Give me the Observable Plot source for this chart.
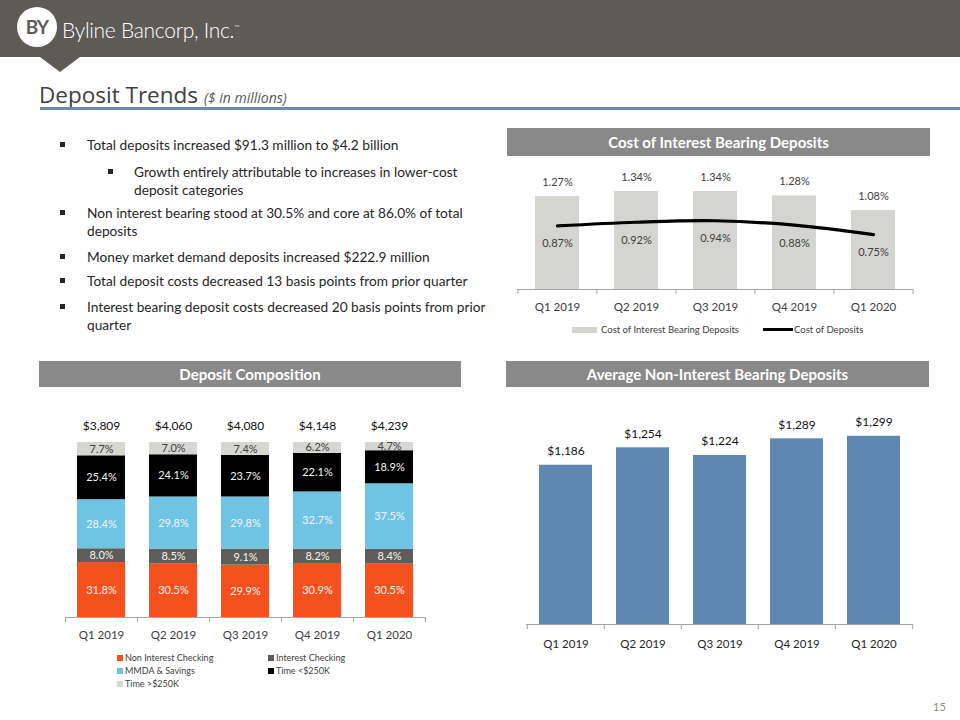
<!DOCTYPE html>
<html><head><meta charset="utf-8">
<script src="https://cdn.jsdelivr.net/npm/d3@7"></script>
<script src="https://cdn.jsdelivr.net/npm/@observablehq/plot@0.6"></script>
<style>
html,body{margin:0;padding:0;}
body{width:960px;height:720px;position:relative;overflow:hidden;background:#fff;font-family:Lato,"Open Sans",sans-serif;color:#262626;}
.abs{position:absolute;white-space:nowrap;}
.band{left:0;top:0;width:960px;height:57px;background:#5e5b57;}
.tri{left:40px;top:57px;width:0;height:0;border-left:20px solid transparent;border-right:20px solid transparent;border-top:15px solid #5e5b57;}
.logo{left:17px;top:7px;width:40px;height:40px;border-radius:50%;background:#fff;color:#5e5b57;font-weight:bold;font-size:19px;line-height:40px;text-align:center;letter-spacing:-1px;}
.brand{left:62px;top:13px;color:#fff;font-size:21px;font-weight:300;line-height:28px;letter-spacing:-0.3px;}
.title{left:39px;top:81px;font-family:"Open Sans";font-size:22.5px;color:#404040;line-height:28px;}
.title i{font-size:14px;color:#595959;}
.rule{left:40px;top:107px;width:920px;height:3px;background:#6b8cab;}
.bl{font-size:13.7px;line-height:18px;color:#262626;}
.sq{width:5px;height:5px;background:#262626;}
.hdr{background:#898989;color:#fff;font-weight:bold;font-size:15px;text-align:center;}
.leg{font-size:9.5px;color:#404040;line-height:12px;}
.lsq{width:6px;height:6px;}
</style></head><body>
<div class="abs band"></div>
<div class="abs tri"></div>
<div class="abs logo">BY</div>
<div class="abs brand">Byline Bancorp, Inc.<sup style="font-size:7px">™</sup></div>
<div class="abs title">Deposit Trends <i>($ in millions)</i></div>
<div class="abs rule"></div>
<div id="bullets"></div>
<div class="abs hdr" style="left:507px;top:128px;width:423px;height:28px;line-height:28px">Cost of Interest Bearing Deposits</div>
<div class="abs hdr" style="left:39px;top:361px;width:422px;height:26px;line-height:26px">Deposit Composition</div>
<div class="abs hdr" style="left:506px;top:361px;width:423px;height:26px;line-height:26px">Average Non-Interest Bearing Deposits</div>
<div id="c1" class="abs" style="left:505px;top:160px"></div>
<div id="c2" class="abs" style="left:40px;top:400px"></div>
<div id="c3" class="abs" style="left:505px;top:395px"></div>
<div id="leg1"></div>
<div id="leg2"></div>
<div class="abs" style="left:933px;top:700px;font-size:11px;color:#8c8c8c">15</div>
<script>
// ---------- data ----------
const quarters = ["Q1 2019","Q2 2019","Q3 2019","Q4 2019","Q1 2020"];
const costInterestBearing = [1.27,1.34,1.34,1.28,1.08];
const costDeposits = [0.87,0.92,0.94,0.88,0.75];
const compSeries = ["Non Interest Checking","Interest Checking","MMDA & Savings","Time <$250K","Time >$250K"];
const nonInterestChecking = [31.8,30.5,29.9,30.9,30.5];
const interestChecking = [8.0,8.5,9.1,8.2,8.4];
const mmdaSavings = [28.4,29.8,29.8,32.7,37.5];
const timeUnder250 = [25.4,24.1,23.7,22.1,18.9];
const timeOver250 = [7.7,7.0,7.4,6.2,4.7];
const totalDeposits = [3809,4060,4080,4148,4239];
const avgNonInterestBearing = [1186,1254,1224,1289,1299];
const bulletLines = [
  {lvl:1, b:true, t:"Total deposits increased $91.3 million to $4.2 billion"},
  {lvl:2, b:true, t:"Growth entirely attributable to increases in lower-cost"},
  {lvl:2, b:false, t:"deposit categories"},
  {lvl:1, b:true, t:"Non interest bearing stood at 30.5% and core at 86.0% of total"},
  {lvl:1, b:false, t:"deposits"},
  {lvl:1, b:true, t:"Money market demand deposits increased $222.9 million"},
  {lvl:1, b:true, t:"Total deposit costs decreased 13 basis points from prior quarter"},
  {lvl:1, b:true, t:"Interest bearing deposit costs decreased 20 basis points from prior"},
  {lvl:1, b:false, t:"quarter"}
];
const bulletY = [145,172,190,213,231,257,281,307,325];

// ---------- bullets ----------
const bh = document.getElementById("bullets");
bulletLines.forEach((l,i)=>{
  const y = bulletY[i];
  const tx = l.lvl===1 ? 87 : 134;
  const sx = l.lvl===1 ? 60 : 108;
  if (l.b) { const s=document.createElement("div"); s.className="abs sq"; s.style.left=sx+"px"; s.style.top=(y-3)+"px"; bh.appendChild(s); }
  const d=document.createElement("div"); d.className="abs bl"; d.style.left=tx+"px"; d.style.top=(y-9)+"px"; d.textContent=l.t; bh.appendChild(d);
});

const font = "Lato, 'Open Sans', sans-serif";
function edgeTicks(n, W, ML, MR, plotH) {
  const step = (W-ML-MR)/n;
  return [
    Plot.ruleX(quarters, {x: d=>d, dx: -step/2, stroke:"#a6a6a6", insetTop: plotH, insetBottom: -5}),
    Plot.ruleX(quarters.slice(-1), {x: d=>d, dx: step/2, stroke:"#a6a6a6", insetTop: plotH, insetBottom: -5})
  ];
}

// ---------- chart 1: cost ----------
{
  const W=430,H=154,MT=12,MB=25,ML=12,MR=22;
  const data = quarters.map((q,i)=>({q, ibd:costInterestBearing[i], cod:costDeposits[i]}));
  const p = Plot.plot({
    width:W,height:H,marginTop:MT,marginBottom:MB,marginLeft:ML,marginRight:MR,
    style:{fontFamily:font,fontSize:"11px",color:"#404040",background:"transparent",overflow:"visible"},
    x:{domain:quarters,paddingInner:0.44,paddingOuter:0.22,axis:null},
    y:{domain:[0,1.6],axis:null},
    marks:[
      Plot.barY(data,{x:"q",y:"ibd",fill:"#d4d4d0"}),
      Plot.ruleY([0],{stroke:"#a6a6a6"}),
      ...edgeTicks(quarters.length,W,ML,MR,H-MT-MB),
      Plot.axisX({tickSize:0,tickPadding:13,fontSize:11.5,fill:"#404040",label:null}),
      Plot.line(data,{x:"q",y:"cod",stroke:"#000",strokeWidth:3.2,curve:"catmull-rom"}),
      Plot.text(data,{x:"q",y:"ibd",text:d=>d.ibd.toFixed(2)+"%",dy:-14,fill:"#404040",fontSize:11}),
      Plot.text(data,{x:"q",y:"cod",text:d=>d.cod.toFixed(2)+"%",dy:18,fill:"#404040",fontSize:11})
    ]
  });
  document.getElementById("c1").appendChild(p);
  document.getElementById("leg1").innerHTML =
    `<div class="abs" style="left:572px;top:327px;width:25px;height:6px;background:#d4d4d0"></div>
     <div class="abs leg" style="left:601px;top:324px">Cost of Interest Bearing Deposits</div>
     <div class="abs" style="left:763px;top:328px;width:30px;height:3px;background:#000"></div>
     <div class="abs leg" style="left:794px;top:324px">Cost of Deposits</div>`;
}

// ---------- chart 2: composition ----------
{
  const W=420,H=247,MT=42,MB=30,ML=25,MR=35;
  const seriesValues=[nonInterestChecking,interestChecking,mmdaSavings,timeUnder250,timeOver250];
  const compColors=["#f4511e","#5f5d59","#6fc4e4","#000000","#d6d6d3"];
  const textColors=["#f4f4f4","#f4f4f4","#f4f4f4","#f4f4f4","#404040"];
  const rows=[];
  quarters.forEach((q,i)=>compSeries.forEach((s,j)=>rows.push({q,s,v:seriesValues[j][i],tc:textColors[j]})));
  const totals = quarters.map((q,i)=>({q,t:totalDeposits[i]}));
  const p = Plot.plot({
    width:W,height:H,marginTop:MT,marginBottom:MB,marginLeft:ML,marginRight:MR,
    style:{fontFamily:font,fontSize:"11px",color:"#404040",background:"transparent",overflow:"visible"},
    x:{domain:quarters,paddingInner:0.333,paddingOuter:0.1665,axis:null},
    y:{domain:[0,1],axis:null},
    color:{domain:compSeries,range:compColors},
    marks:[
      Plot.barY(rows,Plot.stackY({offset:"normalize"},{x:"q",y:"v",fill:"s"})),
      Plot.text(rows,Plot.stackY({offset:"normalize"},{x:"q",y:"v",z:"s",text:d=>d.v.toFixed(1)+"%",fill:"tc",fontSize:11})),
      Plot.text(totals,{x:"q",text:d=>"$"+d3.format(",")(d.t),frameAnchor:"top",lineAnchor:"middle",dy:-16,fontSize:12,fill:"#111"}),
      Plot.ruleY([0],{stroke:"#a6a6a6"}),
      ...edgeTicks(quarters.length,W,ML,MR,H-MT-MB),
      Plot.axisX({tickSize:0,tickPadding:13,fontSize:11.5,fill:"#404040",label:null})
    ]
  });
  document.getElementById("c2").appendChild(p);
  const legPos=[[117,658],[268,658],[117,671],[268,671],[117,684]];
  document.getElementById("leg2").innerHTML = compSeries.map((s,j)=>
    `<div class="abs lsq" style="left:${legPos[j][0]}px;top:${legPos[j][1]-3}px;background:${compColors[j]}"></div>
     <div class="abs leg" style="left:${legPos[j][0]+8}px;top:${legPos[j][1]-6}px;font-size:9px">${s.replace("<","&lt;").replace(">","&gt;")}</div>`).join("");
}

// ---------- chart 3: avg non-interest bearing ----------
{
  const W=430,H=265,MT=20,MB=36,ML=21,MR=22;
  const data = quarters.map((q,i)=>({q,v:avgNonInterestBearing[i]}));
  const p = Plot.plot({
    width:W,height:H,marginTop:MT,marginBottom:MB,marginLeft:ML,marginRight:MR,
    style:{fontFamily:font,fontSize:"11px",color:"#404040",background:"transparent",overflow:"visible"},
    x:{domain:quarters,paddingInner:0.315,paddingOuter:0.1575,axis:null},
    y:{domain:[565,1380],clamp:true,axis:null},
    marks:[
      Plot.barY(data,{x:"q",y:"v",fill:"#5e88b2"}),
      Plot.ruleY([565],{stroke:"#a6a6a6"}),
      ...edgeTicks(quarters.length,W,ML,MR,H-MT-MB),
      Plot.axisX({tickSize:0,tickPadding:15,fontSize:11.5,fill:"#262626",label:null}),
      Plot.text(data,{x:"q",y:"v",text:d=>"$"+d3.format(",")(d.v),dy:-14,fontSize:12,fill:"#111"})
    ]
  });
  document.getElementById("c3").appendChild(p);
}
</script>
</body></html>
